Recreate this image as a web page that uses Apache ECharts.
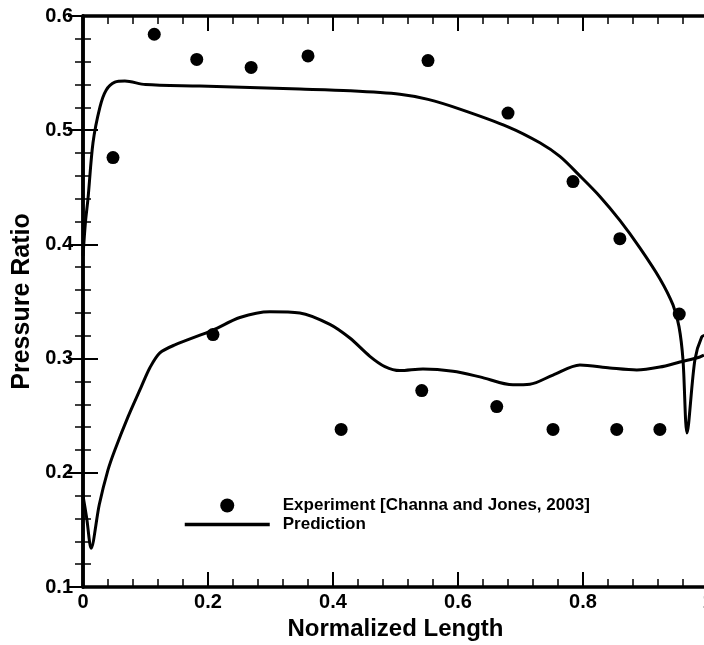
<!DOCTYPE html>
<html><head><meta charset="utf-8">
<script src="https://cdn.jsdelivr.net/npm/echarts@6/dist/echarts.min.js"></script>
<style>html,body{margin:0;padding:0;background:#fff}#c{width:704px;height:645px}</style>
</head><body><div id="c"></div>
<script>
// Tick labels
const xTickLabels = ['0', '0.2', '0.4', '0.6', '0.8', '1'];
const yTickLabels = ['0.1', '0.2', '0.3', '0.4', '0.5', '0.6'];

// Experiment [Channa and Jones, 2003]
const expX = [0.048, 0.114, 0.182, 0.269, 0.36, 0.552, 0.68, 0.784, 0.859, 0.954, 0.208, 0.413, 0.542, 0.662, 0.752, 0.854, 0.923];
const expY = [0.476, 0.584, 0.562, 0.555, 0.565, 0.561, 0.515, 0.455, 0.405, 0.339, 0.321, 0.238, 0.272, 0.258, 0.238, 0.238, 0.238];

// Prediction, upper branch
const upX = [0, 0.004, 0.008, 0.016, 0.027, 0.037, 0.051, 0.067, 0.10, 0.187, 0.347, 0.427, 0.507, 0.552, 0.603, 0.68, 0.731, 0.763, 0.795, 0.827, 0.859, 0.891, 0.923, 0.944, 0.9536, 0.96, 0.9664, 0.979, 0.990, 0.9968];
const upY = [0.39, 0.42, 0.44, 0.489, 0.52, 0.535, 0.542, 0.543, 0.540, 0.5387, 0.536, 0.5345, 0.5315, 0.527, 0.5185, 0.503, 0.489, 0.477, 0.460, 0.442, 0.421, 0.397, 0.370, 0.347, 0.328, 0.2988, 0.2349, 0.2988, 0.319, 0.3207];

// Prediction, lower branch
const loX = [0, 0.006, 0.013, 0.026, 0.04, 0.051, 0.072, 0.093, 0.107, 0.123, 0.147, 0.208, 0.251, 0.299, 0.347, 0.395, 0.427, 0.459, 0.483, 0.507, 0.544, 0.592, 0.635, 0.688, 0.715, 0.752, 0.795, 0.843, 0.886, 0.923, 0.955, 0.987, 0.9936];
const loY = [0.18, 0.16, 0.134, 0.172, 0.2025, 0.22, 0.249, 0.275, 0.292, 0.305, 0.312, 0.325, 0.336, 0.341, 0.340, 0.33, 0.318, 0.302, 0.293, 0.2895, 0.291, 0.289, 0.284, 0.277, 0.2775, 0.2856, 0.2944, 0.2918, 0.29, 0.2926, 0.297, 0.3014, 0.303];

const zip = (a, b) => a.map((v, i) => [v, b[i]]);
const FONT = "'Liberation Sans', Arial, Helvetica, sans-serif";

const tickCommon = {
  axisLine: { show: true, lineStyle: { color: '#000', width: 3.5 } },
  axisTick: { show: true, inside: true, length: 15, lineStyle: { color: '#000', width: 2 } },
  minorTick: { show: true, splitNumber: 5, length: 8, lineStyle: { color: '#000', width: 1.5 } },
  splitLine: { show: false }
};

const chart = echarts.init(document.getElementById('c'), null, { renderer: 'canvas' });
chart.setOption({
  animation: false,
  backgroundColor: '#fff',
  grid: { left: 83, top: 16, width: 625, height: 571, containLabel: false, outerBoundsMode: 'none' },
  legend: {
    orient: 'vertical', left: 178, top: 492, padding: 5,
    itemWidth: 85, itemHeight: 14, itemGap: 2,
    selectedMode: false,
    textStyle: { fontFamily: FONT, fontWeight: 'bold', fontSize: 17, lineHeight: 14, color: '#000', padding: [0, 0, 0, 8] },
    data: [
      { name: 'Experiment [Channa and Jones, 2003]', itemStyle: { color: '#000', opacity: 1 } },
      { name: 'Prediction', itemStyle: { color: 'rgba(0,0,0,0)', borderWidth: 0 }, lineStyle: { color: '#000', width: 3.5 } }
    ]
  },
  xAxis: [
    Object.assign({
      type: 'value', min: 0, max: 1, interval: 0.2, position: 'bottom',
      name: 'Normalized Length', nameLocation: 'middle', nameGap: 26,
      nameTextStyle: { fontFamily: FONT, fontWeight: 'bold', fontSize: 24, color: '#000' },
      axisLabel: { show: true, margin: 5, fontFamily: FONT, fontWeight: 'bold', fontSize: 20, color: '#000',
        formatter: v => xTickLabels[Math.round(v / 0.2)] }
    }, tickCommon),
    Object.assign({ type: 'value', min: 0, max: 1, interval: 0.2, position: 'top', axisLabel: { show: false } }, tickCommon)
  ],
  yAxis: [
    Object.assign({
      type: 'value', min: 0.1, max: 0.6, interval: 0.1, position: 'left',
      name: 'Pressure Ratio', nameLocation: 'middle', nameGap: 41, nameRotate: 90,
      nameTextStyle: { fontFamily: FONT, fontWeight: 'bold', fontSize: 25, color: '#000' },
      axisLabel: { show: true, margin: 10, fontFamily: FONT, fontWeight: 'bold', fontSize: 20, color: '#000',
        formatter: v => yTickLabels[Math.round((v - 0.1) / 0.1)] }
    }, tickCommon),
    Object.assign({ type: 'value', min: 0.1, max: 0.6, interval: 0.1, position: 'right', axisLabel: { show: false } }, tickCommon)
  ],
  series: [
    {
      name: 'Experiment [Channa and Jones, 2003]', type: 'scatter',
      symbol: 'circle', symbolSize: 13, itemStyle: { color: '#000', opacity: 1 },
      data: zip(expX, expY)
    },
    {
      name: 'Prediction', type: 'line', symbol: 'none', showSymbol: false, smooth: 0.3,
      lineStyle: { color: '#000', width: 3 }, itemStyle: { color: '#000' },
      data: zip(upX, upY)
    },
    {
      name: 'Prediction', type: 'line', symbol: 'none', showSymbol: false, smooth: 0.3,
      lineStyle: { color: '#000', width: 3 }, itemStyle: { color: '#000' },
      data: zip(loX, loY)
    }
  ]
});
</script></body></html>
